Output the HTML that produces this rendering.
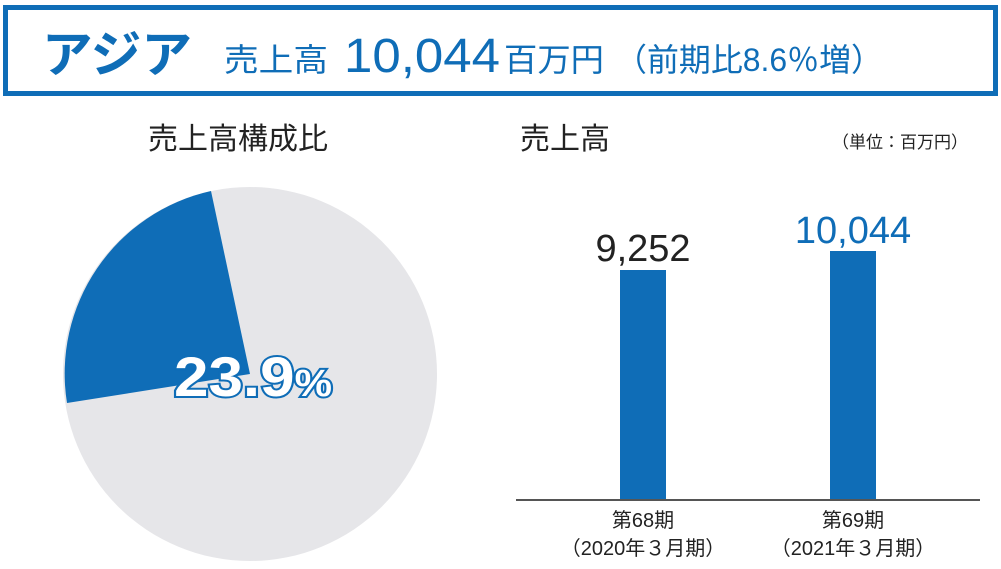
<!DOCTYPE html>
<html><head><meta charset="utf-8"><style>
html,body{margin:0;padding:0;background:#fff;}
svg{display:block;}
text{font-family:"Liberation Sans","Noto Sans CJK JP",sans-serif;}
</style></head><body>
<svg width="1001" height="569" viewBox="0 0 1001 569" xmlns="http://www.w3.org/2000/svg">
<rect x="5.5" y="7.5" width="990" height="86" fill="#fff" stroke="#0f6db7" stroke-width="5"/>
<text x="42" y="72" font-size="50" font-weight="bold" fill="#0f6db7" textLength="150" lengthAdjust="spacingAndGlyphs">アジア</text>
<text x="224" y="71" font-size="32" fill="#0f6db7" textLength="104" lengthAdjust="spacingAndGlyphs">売上高</text>
<text x="344" y="72" font-size="48" fill="#0f6db7" textLength="156" lengthAdjust="spacingAndGlyphs">10,044</text>
<text x="504" y="71" font-size="32" fill="#0f6db7" textLength="100" lengthAdjust="spacingAndGlyphs">百万円</text>
<text x="615" y="71" font-size="32" fill="#0f6db7" textLength="268" lengthAdjust="spacingAndGlyphs">（前期比8.6％増）</text>

<text x="148" y="149" font-size="30" fill="#222">売上高構成比</text>
<text x="520" y="149" font-size="30" fill="#222">売上高</text>
<text x="968" y="148" font-size="17" fill="#222" text-anchor="end">（単位：百万円）</text>

<circle cx="250" cy="374" r="187" fill="#e6e6e9"/>
<path d="M250,374 L211,191 A187,187 0 0,0 67,403 Z" fill="#0f6db7"/>
<text x="174" y="396" font-size="56" font-weight="bold" fill="#fff" stroke="#0f6db7" stroke-width="4" paint-order="stroke" textLength="158" lengthAdjust="spacingAndGlyphs">23.9<tspan font-size="38">%</tspan></text>

<rect x="620" y="270" width="46" height="230" fill="#0f6db7"/>
<rect x="830" y="251" width="46" height="249" fill="#0f6db7"/>
<line x1="516" y1="500" x2="980" y2="500" stroke="#555" stroke-width="2"/>
<text x="643" y="261" font-size="38" fill="#222" text-anchor="middle">9,252</text>
<text x="853" y="243" font-size="38" fill="#0f6db7" text-anchor="middle">10,044</text>
<text x="643" y="527" font-size="20" fill="#222" text-anchor="middle">第68期</text>
<text x="643" y="555" font-size="20" fill="#222" text-anchor="middle">（2020年３月期）</text>
<text x="853" y="527" font-size="20" fill="#222" text-anchor="middle">第69期</text>
<text x="853" y="555" font-size="20" fill="#222" text-anchor="middle">（2021年３月期）</text>
</svg>
</body></html>
